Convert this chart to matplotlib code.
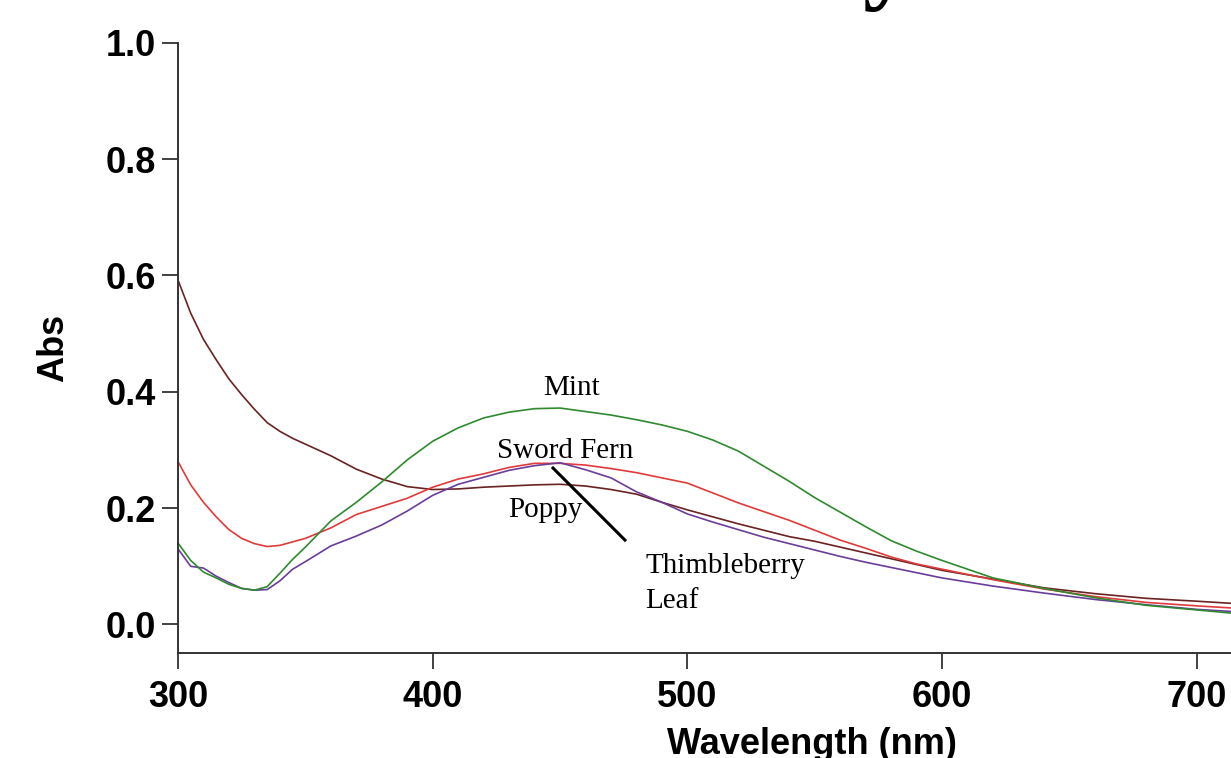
import matplotlib
matplotlib.use("Agg")
import matplotlib.pyplot as plt

# ---- data ----
wavelength = [300, 305, 310, 315, 320, 325, 330, 335, 340, 345, 350, 360, 370, 380, 390,
              400, 410, 420, 430, 440, 450, 460, 470, 480, 490, 500, 510, 520, 530, 540,
              550, 560, 570, 580, 590, 600, 620, 640, 660, 680, 700, 715]

poppy = [0.592, 0.535, 0.490, 0.455, 0.422, 0.395, 0.370, 0.347, 0.332, 0.320, 0.310, 0.290,
         0.267, 0.250, 0.237, 0.232, 0.233, 0.236, 0.238, 0.240, 0.241, 0.238, 0.232, 0.224,
         0.210, 0.197, 0.185, 0.173, 0.162, 0.151, 0.143, 0.133, 0.123, 0.113, 0.103, 0.093,
         0.078, 0.063, 0.053, 0.045, 0.040, 0.036]

sword_fern = [0.280, 0.240, 0.210, 0.185, 0.163, 0.148, 0.139, 0.134, 0.136, 0.142, 0.148,
              0.166, 0.189, 0.203, 0.217, 0.236, 0.250, 0.259, 0.270, 0.277, 0.277, 0.274,
              0.268, 0.261, 0.252, 0.243, 0.226, 0.209, 0.194, 0.179, 0.162, 0.145, 0.131,
              0.116, 0.104, 0.095, 0.077, 0.061, 0.048, 0.038, 0.032, 0.028]

mint = [0.140, 0.110, 0.090, 0.080, 0.069, 0.062, 0.059, 0.065, 0.088, 0.112, 0.133, 0.178,
        0.210, 0.245, 0.283, 0.315, 0.338, 0.355, 0.365, 0.371, 0.372, 0.366, 0.360, 0.352,
        0.343, 0.332, 0.317, 0.298, 0.272, 0.246, 0.218, 0.193, 0.168, 0.144, 0.126, 0.110,
        0.080, 0.062, 0.046, 0.033, 0.025, 0.019]

thimbleberry = [0.130, 0.100, 0.097, 0.083, 0.072, 0.062, 0.059, 0.060, 0.075, 0.095, 0.108,
                0.135, 0.152, 0.171, 0.195, 0.222, 0.241, 0.253, 0.265, 0.273, 0.278, 0.266,
                0.252, 0.228, 0.210, 0.190, 0.176, 0.163, 0.150, 0.139, 0.128, 0.117, 0.107,
                0.098, 0.089, 0.080, 0.066, 0.054, 0.043, 0.034, 0.026, 0.022]

x_ticks = [300, 400, 500, 600, 700]
y_ticks = [0.0, 0.2, 0.4, 0.6, 0.8, 1.0]

W, H = 1231, 758
fig = plt.figure(figsize=(W / 100, H / 100), dpi=100)
ax = fig.add_axes([178 / W, (H - 653) / H, (W - 178) / W, (653 - 42.7) / H])

ax.plot(wavelength, poppy, color="#6b2222", lw=1.2)
ax.plot(wavelength, sword_fern, color="#e03a3a", lw=1.2)
ax.plot(wavelength, thimbleberry, color="#6a3d9a", lw=1.2)
ax.plot(wavelength, mint, color="#2f8a2f", lw=1.2)

ax.set_xlim(300, 713.4)
ax.set_ylim(-0.049, 1.0)
ax.set_xticks(x_ticks)
ax.set_yticks(y_ticks)
ax.set_yticklabels([f"{v:.1f}" for v in y_ticks])

for s in ["top", "right"]:
    ax.spines[s].set_visible(False)
for s in ["left", "bottom"]:
    ax.spines[s].set_linewidth(1.4)
    ax.spines[s].set_color("#333333")

ax.tick_params(axis="both", direction="out", length=11.5, width=1.3, color="#333333",
               labelsize=26)
ax.tick_params(axis="x", pad=8)
ax.tick_params(axis="y", pad=4)
for lab in ax.get_xticklabels() + ax.get_yticklabels():
    lab.set_fontweight("bold")
    lab.set_fontfamily("Liberation Sans")

ax.set_ylabel("Abs", fontsize=26, fontweight="bold", family="Liberation Sans", labelpad=25)
fig.text(812 / W, 1 - 727 / H, "Wavelength (nm)", ha="center", va="top",
         fontsize=26, fontweight="bold", family="Liberation Sans")

# top fragment of a cut-off title glyph
fig.text(888 / W, 1 + 9 / H, "y", ha="center", va="baseline", fontsize=72,
         fontweight="bold", family="Liberation Serif")

serif = dict(family="Liberation Serif", fontsize=21, va="baseline", ha="left")
ax.text(443.3, 0.394, "Mint", **serif)
ax.text(425.2, 0.287, "Sword Fern", **serif)
ax.text(429.6, 0.185, "Poppy", **serif)
ax.text(483.4, 0.0877, "Thimbleberry", **serif)
ax.text(483.4, 0.0275, "Leaf", **serif)
ax.plot([446.8, 475.9], [0.2708, 0.1432], color="black", lw=2.2, solid_capstyle="butt")

fig.savefig("out.png", dpi=100)
